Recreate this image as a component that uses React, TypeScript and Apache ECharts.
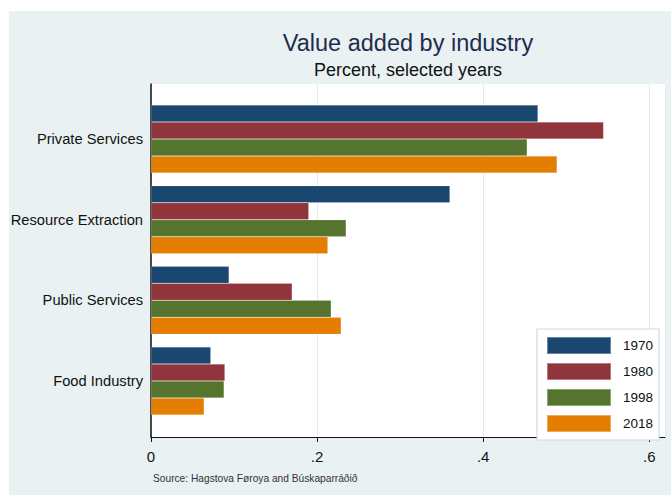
import React, { useEffect, useRef } from "react";
import * as echarts from "echarts";

const categories = ["Private Services", "Resource Extraction", "Public Services", "Food Industry"];
const years = ["1970", "1980", "1998", "2018"];
const v1970 = [0.466, 0.36, 0.094, 0.072];
const v1980 = [0.545, 0.19, 0.17, 0.089];
const v1998 = [0.453, 0.235, 0.217, 0.088];
const v2018 = [0.489, 0.213, 0.229, 0.064];
const xTicks = [0, 0.2, 0.4, 0.6];
const colors = ["#1a476f", "#90353b", "#55752f", "#e37e00"];

export default function App() {
  const ref = useRef<HTMLDivElement>(null);
  useEffect(() => {
    if (!ref.current) return;
    const chart = echarts.init(ref.current, undefined, { renderer: "svg" });
    const values = [v1970, v1980, v1998, v2018];
    const font = "'Liberation Sans', Arial, sans-serif";
    chart.setOption({
      animation: false,
      textStyle: { fontFamily: font },
      graphic: [
        {
          type: "rect",
          z: -100,
          silent: true,
          shape: { x: 9, y: 11, width: 662, height: 484 },
          style: { fill: "#e9f1f3" },
        },
        {
          type: "text",
          x: 408,
          y: 43,
          style: {
            text: "Value added by industry",
            fontSize: 23.5,
            fill: "#1e2d4c",
            fontFamily: font,
            align: "center",
            verticalAlign: "middle",
          },
        },
        {
          type: "text",
          x: 408,
          y: 70,
          style: {
            text: "Percent, selected years",
            fontSize: 18,
            fill: "#111",
            fontFamily: font,
            align: "center",
            verticalAlign: "middle",
          },
        },
        {
          type: "text",
          x: 153,
          y: 478,
          style: {
            text: "Source: Hagstova Føroya and Búskaparráðið",
            fontSize: 10.2,
            fill: "#333",
            fontFamily: font,
            verticalAlign: "middle",
          },
        },
      ],
      legend: {
        orient: "vertical",
        left: 537,
        top: 329,
        data: years,
        itemWidth: 64,
        itemHeight: 17,
        itemGap: 7,
        icon: "rect",
        backgroundColor: "#ffffff",
        borderColor: "#cfdadd",
        borderWidth: 1.2,
        padding: [7, 6, 7, 9],
        textStyle: {
          fontSize: 13.5,
          color: "#111",
          padding: [0, 0, 0, 7],
          width: 31,
          fontFamily: font,
        },
      },
      grid: [
        {
          left: 151,
          right: 6,
          top: 84,
          bottom: 58,
          show: true,
          backgroundColor: "#ffffff",
          borderWidth: 0,
        },
        {
          left: 151,
          right: 6,
          top: 98.7,
          bottom: 73.7,
        },
      ],
      xAxis: [
        {
          gridIndex: 0,
          type: "value",
          min: 0,
          max: 0.619,
          interval: 0.2,
          axisLine: { show: true, lineStyle: { color: "#111", width: 1 } },
          axisTick: { show: true, length: 5, lineStyle: { color: "#111" } },
          axisLabel: {
            fontSize: 15,
            color: "#111",
            margin: 12,
            showMaxLabel: false,
            formatter: (v: number) => {
              const t = xTicks.find((x) => Math.abs(x - v) < 1e-6);
              if (t === undefined) return "";
              return t === 0 ? "0" : t.toFixed(1).replace(/^0/, "");
            },
          },
          splitLine: { show: true, lineStyle: { color: "#e2ecef", width: 1 } },
        },
        {
          gridIndex: 1,
          type: "value",
          min: 0,
          max: 0.619,
          show: false,
        },
      ],
      yAxis: [
        {
          gridIndex: 0,
          type: "value",
          min: 0,
          max: 1,
          axisLine: { show: true, lineStyle: { color: "#111", width: 1.5 } },
          axisTick: { show: false },
          axisLabel: { show: false },
          splitLine: { show: false },
        },
        {
          gridIndex: 1,
          type: "category",
          inverse: true,
          data: categories,
          axisLine: { show: false },
          axisTick: { show: false },
          axisLabel: { fontSize: 14.7, color: "#111", margin: 8, fontFamily: font },
        },
      ],
      series: years.map((y, i) => ({
        name: y,
        type: "bar",
        xAxisIndex: 1,
        yAxisIndex: 1,
        data: values[i],
        barGap: "0%",
        barCategoryGap: "15.7%",
        itemStyle: { color: colors[i], borderColor: "rgba(255,255,255,0.35)", borderWidth: 0.5 },
      })),
    });
    return () => chart.dispose();
  }, []);
  return (
    <div style={{ position: "absolute", left: 0, top: 0, width: 671, height: 495, background: "#fff" }}>
      <div ref={ref} style={{ width: 671, height: 495 }} />
    </div>
  );
}
